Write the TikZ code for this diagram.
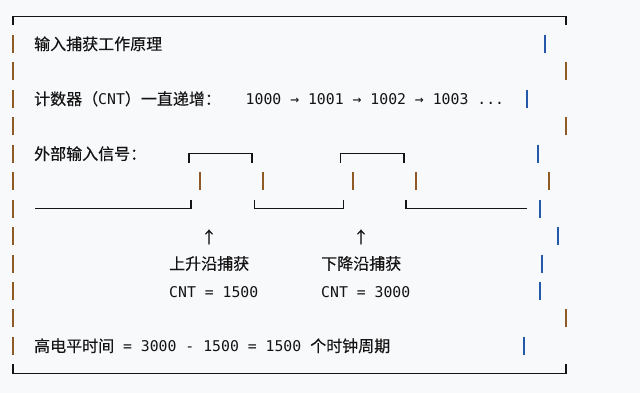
\documentclass[tikz,border=0pt]{standalone}
\usepackage{fontspec}
\usepackage{xcolor}
\usepackage{tikz}
\newfontfamily\cjkfam[FakeBold=0.25]{Noto Sans CJK SC}
\newfontfamily\monofam{DejaVu Sans Mono}
\newcommand\cjk{\cjkfam\fontsize{16}{18}\selectfont}
\newcommand\mono{\monofam\fontsize{14.8}{18}\selectfont}
\definecolor{paper}{HTML}{F8F9FB}
\definecolor{ink}{HTML}{141414}
\definecolor{warm}{HTML}{8F5A24}
\definecolor{cool}{HTML}{2458A8}

\begin{document}
\begin{tikzpicture}[x=1pt,y=-1pt,
  txt/.style={anchor=base west,inner sep=0pt,text=ink,font=\cjk},
  code/.style={txt,font=\mono},
  edge/.style={draw=ink,line width=1.25pt},
  wall/.style={line width=1.6pt}]
\useasboundingbox[fill=paper] (0,0) rectangle (640,393);
% frame
\draw[edge] (13,25.5) -- (13,16.5) -- (566,16.5) -- (566,25.5);
\draw[edge] (13,364.35) -- (13,373.35) -- (566,373.35) -- (566,364.35);
\foreach \k in {1,...,12} \draw[wall,warm] (13,{7.5+27.45*\k}) -- (13,{25.5+27.45*\k});
\foreach \k/\x/\c in {1/545/cool,2/566/warm,3/527/cool,4/566/warm,5/538/cool,6/549/warm,
  7/540/cool,8/558/cool,9/542/cool,10/540/cool,11/566/warm,12/524/cool}
  \draw[wall,\c] (\x,{7.5+27.45*\k}) -- (\x,{25.5+27.45*\k});
% texts
\node[txt] (title) at (34,49.95) {输入捕获工作原理};
\node[txt] (cntlbl) at (34,104.85) {计数器（{\mono CNT}）一直递增：};
\node[code] (cntseq) at (245.5,104.85) {1000 → 1001 → 1002 → 1003 ...};
\node[txt] (inlbl) at (34,159.75) {外部输入信号：};
% input signal
\draw[edge] (189,162.75) -- (189,153.75) -- (252,153.75) -- (252,162.75);
\draw[edge] (340.7,162.75) -- (340.7,153.75) -- (404,153.75) -- (404,162.75);
\foreach \x in {200,263,352.7,415.7} \draw[wall,warm] (\x,172.2) -- (\x,190.2);
\draw[edge] (35,208.65) -- (191,208.65) -- (191,199.65);
\draw[edge] (254.3,199.65) -- (254.3,208.65) -- (343.3,208.65) -- (343.3,199.65);
\draw[edge] (406,199.65) -- (406,208.65) -- (526.7,208.65);
% captures
\node[txt,anchor=base] (uparr) at (209,243) {↑};
\node[txt,anchor=base] (dnarr) at (361,243) {↑};
\node[txt] (rise) at (169,269.55) {上升沿捕获};
\node[txt] (fall) at (321,269.55) {下降沿捕获};
\node[code] (risev) at (169,297) {CNT = 1500};
\node[code] (fallv) at (321,297) {CNT = 3000};
\node[txt] (hightime) at (34,351.9) {高电平时间{\mono\ = 3000 - 1500 = 1500\ }个时钟周期};
\end{tikzpicture}
\end{document}
